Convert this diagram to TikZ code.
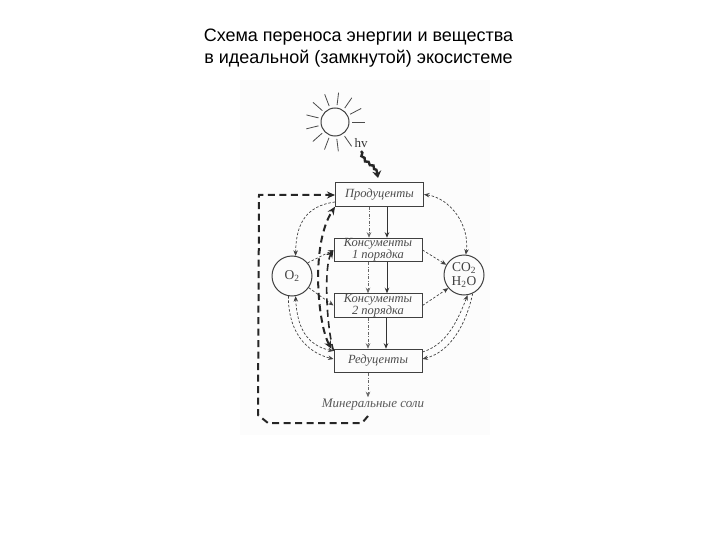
\documentclass[tikz,border=0pt]{standalone}
\usepackage{fontspec}
\setmainfont{Liberation Sans}
\newfontfamily\scanfont{Liberation Serif}
\usetikzlibrary{positioning}
\usetikzlibrary{arrows.meta}
\usetikzlibrary{decorations.pathmorphing}
\begin{document}
\begin{tikzpicture}[
    x=1pt, y=-1pt,
    >={Stealth[length=5.5pt,width=4.5pt]},
    level/.style={draw=black!75, line width=1pt, minimum width=88pt, minimum height=23.5pt, inner sep=0pt, align=center, font=\scanfont\itshape\fontsize{12.5}{11}\selectfont, text=black!70},
    pool/.style={draw=black!75, line width=1pt, circle, minimum size=40pt, inner sep=0pt, align=center, font=\scanfont\fontsize{13.5}{14}\selectfont, text=black!75},
    ray/.style={black!70, line width=0.8pt},
    flow/.style={->, black!80, line width=1pt},
    gas/.style={black!75, line width=0.7pt, dash pattern=on 2.5pt off 1.8pt},
    dashdot/.style={->, black!60, line width=0.7pt, dash pattern=on 3pt off 1.5pt on 1pt off 1.5pt},
    cycle/.style={black!85, line width=2pt, dash pattern=on 7pt off 4.5pt},
    cycletip/.style={>={Stealth[length=8pt,width=7pt]}}
]
\useasboundingbox (0,0) rectangle (720,540);

% Scanned page
\node[fill=black!1, minimum width=250pt, minimum height=355pt, inner sep=0pt] (page) at (365,257.5) {};

% Title
\node[align=center, font=\fontsize{18}{22}\selectfont] (title) at (358.5,48) {Схема переноса энергии и вещества\\в идеальной (замкнутой) экосистеме};

% Sun
\node[draw=black!75, line width=1pt, circle, minimum size=28pt, inner sep=0pt] (sun) at (335,122) {};
\foreach \a in {0,27.7,...,332} {
    \draw[ray] (sun.\a) ++(\a:2.5pt) -- ++(\a:12.5pt);
}
\node[font=\scanfont\fontsize{13}{13}\selectfont, text=black!80] (hv) at (361,143) {hv};

% Trophic levels
\node[level] (prod) at (379.5,194.5) {Продуценты};
\node[level, below=31pt of prod, xshift=-1.5pt] (konsOne) {Консументы\\1 порядка};
\node[level, below=31pt of konsOne] (konsTwo) {Консументы\\2 порядка};
\node[level, below=31pt of konsTwo] (redu) {Редуценты};
\node[below=24pt of redu, font=\scanfont\itshape\fontsize{13}{13}\selectfont, text=black!65, inner sep=2pt, xshift=-5pt] (salts) {Минеральные соли};

% Gas pools
\node[pool] (oxy) at (292,276) {O\textsubscript{2}};
\node[pool] (carb) at (464,275) {CO\textsubscript{2}\\H\textsubscript{2}O};

% Light
\coordinate (lightEnd) at (378,178);
\draw[black!85, line width=2.4pt, decorate, decoration={snake, amplitude=1pt, segment length=6pt, post length=7pt}, -{Stealth[length=7pt,width=9pt]}] (hv.south) .. controls (364,165) and (377,160) .. (lightEnd);

% Flows down the chain
\draw[flow] (prod.south -| 387,0) -- (konsOne.north -| 387,0);
\draw[flow] (konsOne.south -| 387,0) -- (konsTwo.north -| 387,0);
\draw[flow] (konsTwo.south -| 386,0) -- (redu.north -| 386,0);
\draw[dashdot] (prod.south -| 369,0) -- (konsOne.north -| 369,0);
\draw[dashdot] (konsOne.south -| 368,0) -- (konsTwo.north -| 368,0);
\draw[dashdot] (konsTwo.south -| 368,0) -- (redu.north -| 368,0);
\draw[dashdot] (redu.south -| 368,0) -- (salts.north -| 368,0);

% Gas exchange
\draw[gas, <->] (prod.east) .. controls (450,198) and (470,225) .. (carb.85);
\draw[gas, ->] (prod.west |- 0,202) .. controls (305,206) and (296,225) .. (oxy.80);
\draw[gas, ->] (oxy.40) -- (konsOne.west);
\draw[gas, ->] (oxy.-35) -- (konsTwo.west);
\draw[gas, ->] (konsOne.east) -- (carb.150);
\draw[gas, ->] (konsTwo.east) -- (carb.-140);
\draw[gas, <->] (redu.west |- 0,351) .. controls (305,345) and (297,325) .. (oxy.-80);
\draw[gas, ->] (oxy.-100) .. controls (288,330) and (305,352) .. (redu.west |- 0,359);
\draw[gas, ->] (redu.east |- 0,352) .. controls (445,345) and (456,325) .. (carb.-80);
\draw[gas, ->] (carb.-65) .. controls (466,325) and (450,352) .. (redu.east |- 0,359);

% Mineral cycle
\coordinate (saltsEnd) at (368,416);
\draw[cycle, cycletip, ->] (saltsEnd) -- (362,423) -- (268,423) -- (258,415) -- (259,195) -- (prod.west |- 0,195);

% Return to the decomposers
\draw[cycle, cycletip, <->] (redu.north west) ++(-2pt,0) .. controls (318,325) and (310,245) .. (prod.south west);
\draw[cycle, cycletip, ->, line width=1.6pt] (redu.north west) ++(0,-2pt) .. controls (326,325) and (324,265) .. (konsOne.west);

\end{tikzpicture}
\end{document}
